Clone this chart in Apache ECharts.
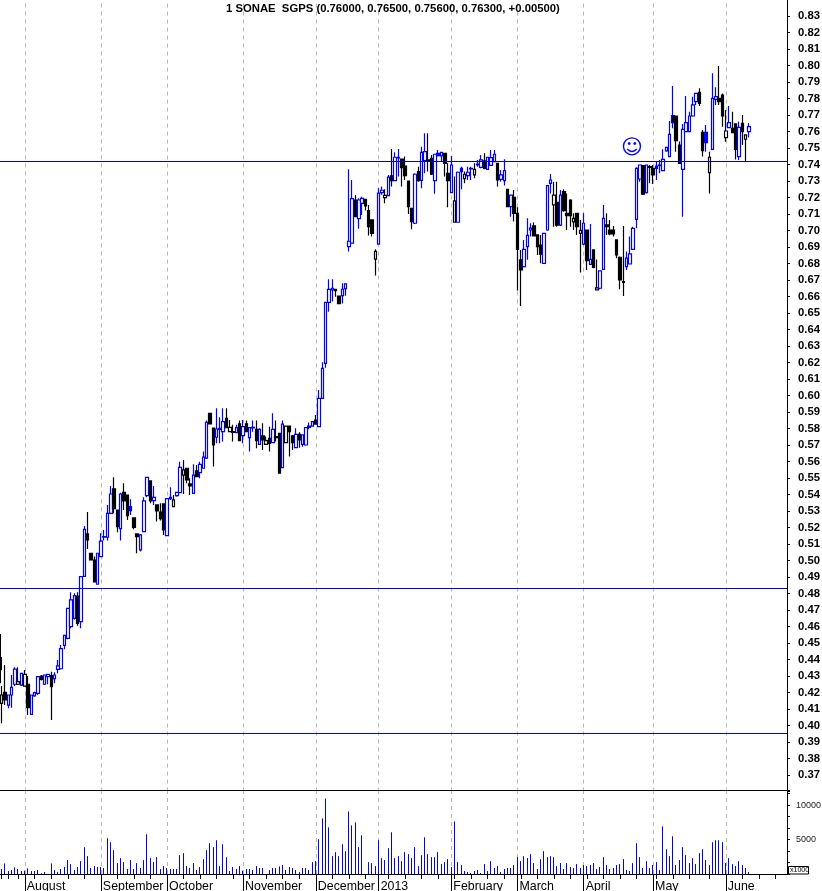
<!DOCTYPE html>
<html><head><meta charset="utf-8">
<style>html,body{margin:0;padding:0;background:#fff}#c{width:822px;height:891px}</style>
<script src="https://cdn.jsdelivr.net/npm/echarts@6/dist/echarts.min.js"></script>
</head><body><div id="c"></div>
<script>
const titleText = "1 SONAE  SGPS (0.76000, 0.76500, 0.75600, 0.76300, +0.00500)";
const monthNames = ["August","September","October","November","December","2013","February","March","April","May","June"];
const monthStarts = [8,31,51,74,96,115,137,157,177,198,220];
const weekTicks = [1,3,6,11,16,21,26,36,41,46,56,61,66,71,76,81,86,91,101,106,111,118,123,128,133,138,143,148,153,158,163,168,173,178,183,188,193,199,204,209,215,225,230,235];
const slotCount = 239;
const levelLines = [0.7419,0.4829,0.3956];
const kinds = ("KbKBBBbBbK"+"BBBKBBKBBB"+"BBBBKBBKKK"+"BBBBBKKBKK"+"FKKBBBKBKK"+"KBBbBBbKKB"+"KBBBKKBBBK"+"bKBKBKBBKB"+"KbKBKKBbKK"+"BKBBBBKBBB"+"BBKKBBBBKB"+"BKKKbBBbBK"+"BBKKKKBKBB"+"KKBFBKKBbB"+"FbBBbBBKBB"+"BKBBKBKKKB"+"BBKKKBBBbK"+"BKKKbKbBKB"+"KbBBKKKKKK"+"BBBBBKBKKF"+"BBBBMKKBBB"+"BBKKFbBBKK"+"bBKKBKbB").split("");
const highs = [.4555,.4239,.4367,.4185,.4306,.4353,.4353,.4316,.4336,.4300,
.4185,.4205,.4296,.4306,.4306,.4310,.4326,.4322,.4397,.4488,
.4546,.4710,.4807,.4801,.4807,.4902,.5209,.5294,.5044,.5024,
.5044,.5165,.5185,.5337,.5452,.5504,.5306,.5411,.5468,.5397,
.5371,.5258,.5161,.5161,.5383,.5504,.5482,.5452,.5337,.5347,
.5343,.5375,.5444,.5397,.5413,.5599,.5609,.5559,.5498,.5583,
.5579,.5599,.5660,.5848,.5892,.5803,.5922,.5868,.5922,.5922,
.5852,.5822,.5822,.5848,.5852,.5848,.5805,.5848,.5848,.5801,
.5832,.5751,.5811,.5892,.5848,.5771,.5848,.5815,.5815,.5761,
.5801,.5777,.5761,.5807,.5836,.5842,.5882,.6033,.6201,.6564,
.6704,.6704,.6644,.6603,.6680,.6680,.7371,.7306,.7215,.7195,
.7205,.7189,.7155,.7064,.6886,.7256,.7266,.7250,.7337,.7494,
.7474,.7494,.7432,.7448,.7300,.7135,.7347,.7387,.7508,.7589,
.7589,.7458,.7462,.7488,.7474,.7468,.7407,.7452,.7327,.7357,
.7387,.7357,.7387,.7387,.7407,.7428,.7458,.7468,.7444,.7488,
.7488,.7407,.7367,.7432,.7250,.7215,.7246,.7141,.6882,.6943,
.7074,.7044,.7048,.6973,.6973,.6983,.7272,.7343,.7296,.7296,
.7246,.7250,.7225,.7189,.7104,.7104,.7064,.7104,.7003,.7040,
.6882,.6825,.6755,.7155,.7104,.7064,.7027,.6943,.6842,.7027,
.6872,.6963,.7023,.7383,.7397,.7397,.7397,.7397,.7397,.7417,
.7427,.7492,.7504,.7664,.7876,.7694,.7539,.7646,.7815,.7720,
.7811,.7831,.7862,.7609,.7640,.7478,.7953,.7868,.7997,.7831,
.7730,.7755,.7720,.7646,.7660,.7700,.7579,.7650];
const bodyTops = [.44,.4185,.4201,.4185,.4231,.4342,.4266,.4316,.4310,.4250,
.4185,.4199,.4296,.4300,.4306,.4310,.4302,.4306,.4361,.4466,
.4546,.4710,.4761,.4787,.4785,.4902,.5189,.5161,.5044,.5003,
.5044,.5117,.5145,.5286,.5403,.5434,.5306,.5403,.5413,.5397,
.5327,.5258,.5161,.5155,.5361,.5504,.5482,.5383,.5337,.5294,
.5343,.5375,.5383,.5367,.5413,.5565,.5549,.5559,.5464,.5517,
.5543,.5583,.5626,.5838,.5892,.5803,.5797,.5801,.5842,.5862,
.5807,.5781,.5805,.5828,.5811,.5828,.5805,.5807,.5795,.5795,
.5755,.5727,.5741,.5795,.5751,.5771,.5826,.5815,.5815,.5755,
.5765,.5765,.5761,.5805,.5815,.5842,.5851,.5983,.6164,.6564,
.6643,.6650,.6644,.6603,.6644,.6676,.6935,.7193,.7185,.7185,
.7195,.7189,.7121,.7064,.6874,.7226,.7244,.7213,.7323,.7331,
.7444,.7444,.7432,.7391,.7300,.7135,.7341,.7357,.7474,.7478,
.7428,.7438,.7462,.7468,.7474,.7468,.7347,.7397,.7179,.7353,
.7377,.7341,.7353,.7377,.7371,.7403,.7428,.7422,.7444,.7442,
.7462,.7407,.7337,.7363,.7250,.7215,.7201,.7104,.6822,.6886,
.6971,.7014,.7028,.6973,.6912,.6983,.7272,.7306,.7215,.7171,
.7215,.7236,.7104,.7185,.7074,.7104,.7001,.7044,.7003,.6825,
.6882,.6652,.6755,.7074,.7034,.7003,.7003,.6943,.6838,.6690,
.6832,.6858,.7013,.7377,.7397,.7393,.7397,.7387,.7377,.7391,
.7397,.7431,.7504,.7583,.7696,.7694,.7518,.7613,.7654,.7694,
.7761,.7831,.7837,.7595,.7595,.7444,.7801,.7811,.7801,.7821,
.7603,.7654,.7619,.7646,.7625,.7650,.7579,.7629];
const bodyBottoms = [.435,.4134,.4155,.4124,.4185,.4250,.4250,.4245,.4239,.4108,
.4068,.4179,.4195,.4280,.4250,.4296,.4235,.4284,.4340,.4344,
.4486,.4528,.4599,.4649,.4619,.4629,.4904,.5125,.5003,.4870,
.4856,.5024,.5141,.5141,.5286,.5314,.5205,.5193,.5361,.5272,
.5302,.5201,.5145,.5064,.5175,.5393,.5361,.5363,.5300,.5254,
.5185,.5151,.5375,.5327,.5393,.5411,.5517,.5488,.5452,.5407,
.5508,.5533,.5559,.5620,.5828,.5700,.5747,.5795,.5781,.5805,
.5781,.5777,.5775,.5727,.5757,.5781,.5745,.5803,.5727,.5704,
.5731,.5704,.5710,.5714,.5745,.5529,.5563,.5714,.5781,.5714,
.5684,.5731,.5704,.5700,.5807,.5815,.5827,.5811,.5983,.6195,
.6564,.6640,.6636,.6557,.6605,.6648,.6902,.6923,.7084,.7072,
.7165,.7149,.7024,.6983,.6826,.6917,.7230,.7199,.7211,.7302,
.7302,.7440,.7381,.7333,.7145,.7054,.7044,.7302,.7304,.7424,
.7422,.7341,.7302,.7454,.7452,.7407,.7302,.7230,.7050,.7050,
.7357,.7314,.7333,.7373,.7337,.7397,.7383,.7377,.7371,.7395,
.7418,.7306,.7310,.7302,.7145,.7145,.7104,.6886,.6761,.6781,
.6902,.7003,.6967,.6902,.6856,.6801,.7003,.7286,.7155,.7033,
.7033,.7120,.7090,.7090,.7052,.7023,.6983,.6918,.6817,.6795,
.6777,.6640,.6650,.6765,.7023,.6979,.6979,.6852,.6700,.6686,
.6781,.6797,.6886,.7068,.7312,.7221,.7229,.7383,.7337,.7377,
.7393,.7363,.7482,.7448,.7654,.7545,.7407,.7371,.7599,.7599,
.7694,.7781,.7771,.7484,.7532,.7351,.7492,.7795,.7781,.7694,
.7563,.7623,.7593,.7492,.7448,.7599,.7553,.7599];
const lows = [.4256,.4013,.4124,.4104,.4108,.4239,.4245,.4239,.4235,.4064,
.4068,.4175,.4185,.4272,.4245,.4250,.4033,.4256,.4316,.4340,
.4462,.4522,.4589,.4643,.4605,.4589,.4902,.5070,.5003,.4870,
.4856,.5024,.5121,.5121,.5282,.5286,.5171,.5121,.5306,.5246,
.5276,.5189,.5044,.5054,.5175,.5383,.5347,.5337,.5236,.5242,
.5155,.5151,.5367,.5327,.5387,.5407,.5403,.5468,.5397,.5407,
.5504,.5498,.5559,.5615,.5828,.5569,.5710,.5710,.5721,.5801,
.5777,.5721,.5771,.5727,.5710,.5777,.5660,.5781,.5680,.5700,
.5670,.5700,.5660,.5710,.5721,.5529,.5559,.5714,.5630,.5670,
.5684,.5684,.5690,.5696,.5795,.5811,.5827,.5811,.5983,.6168,
.6508,.6569,.6599,.6557,.6557,.6605,.6872,.6923,.7080,.7011,
.7094,.7121,.6969,.6963,.6727,.6913,.7216,.7165,.7211,.7266,
.7300,.7327,.7266,.7306,.7100,.7007,.7040,.7296,.7256,.7347,
.7357,.7337,.7222,.7448,.7417,.7327,.7141,.7230,.7050,.7050,
.7250,.7286,.7306,.7306,.7316,.7387,.7377,.7371,.7367,.7393,
.7413,.7266,.7296,.7272,.7141,.7084,.7054,.6636,.6543,.6781,
.6822,.6963,.6967,.6852,.6801,.6801,.6999,.7225,.7023,.7023,
.7027,.7114,.7003,.7023,.7003,.6973,.6745,.6912,.6761,.6791,
.6771,.6640,.6644,.6761,.6973,.6971,.6963,.6832,.6644,.6603,
.6761,.6797,.6882,.7013,.7296,.7215,.7225,.7286,.7282,.7306,
.7347,.7363,.7478,.7448,.7619,.7478,.7407,.7084,.7599,.7599,
.7690,.7761,.7755,.7448,.7478,.7225,.7488,.7761,.7761,.7629,
.7538,.7619,.7589,.7431,.7427,.7518,.7417,.7563];
const volumes = [0,720,1536,432,576,960,720,432,480,816,
432,432,576,96,288,0,1536,576,288,720,
1008,2016,1440,576,1008,1872,3888,2592,864,1152,
1008,1008,864,5184,4608,3456,1584,2304,1728,720,
2016,720,1584,864,2016,5760,2304,1728,2448,720,
1152,864,720,720,720,2736,3024,1152,864,1584,
576,1008,2160,3456,4464,3888,4896,1152,4320,2448,
432,1008,720,1152,480,720,720,576,1152,864,
864,0,576,864,864,1104,1296,576,1008,864,
576,288,864,864,576,1728,1872,5040,8064,10944,
6768,2592,3168,2592,4320,3312,9072,7056,7488,3888,
5616,0,1728,1584,1152,4896,2304,2016,3744,6048,
2304,2592,1872,3168,2880,2304,3888,1152,2736,5328,
2880,2448,2448,3168,1440,1728,2160,1008,7632,1728,
1296,432,288,144,432,576,144,1440,432,1872,
864,1152,288,720,864,864,1296,2448,1872,2592,
2304,2880,1584,720,2160,3312,2448,2592,2448,1152,
1584,720,1584,1008,864,1440,864,1296,1152,1296,
1584,720,1008,2448,1296,720,864,1296,1440,2160,
576,432,1584,4464,2448,864,1872,864,1296,1728,
576,6912,3600,2592,5472,1296,2016,3888,2736,1584,
2304,1440,3024,3600,2016,1296,4608,4896,4896,4608,
1584,2304,1440,1152,1872,1296,864,288];

const BLUE='#0000ff', BLACK='#000000', WHITE='#ffffff';
const categories = Array.from({length:slotCount},(_,i)=>{const m=monthStarts.indexOf(i);return m>=0?monthNames[m]:String(i);});
const styleOf = {B:[WHITE,BLUE],b:[WHITE,BLACK],K:[BLACK,BLACK],F:[BLUE,BLUE],M:[BLACK,BLUE]};
const candleData = kinds.map((kd,i)=>{
  const hollow = kd==='B'||kd==='b';
  const [fill,edge]=styleOf[kd];
  return {value: hollow?[bodyBottoms[i],bodyTops[i],lows[i],highs[i]]:[bodyTops[i],bodyBottoms[i],lows[i],highs[i]],
    itemStyle:{color:fill,color0:fill,borderColor:edge,borderColor0:edge,borderWidth:i===0?5:1.2}};
});
const volumeData = volumes.map(v=>v>0?[0,0,0,v]:'-');
const dash = monthStarts.map(k=>({xAxis:k}));
const dashStyle={color:'#b8b8b8',type:[4,4],width:1};
const dashMark = {silent:true,symbol:'none',z:1,label:{show:false},animation:false,lineStyle:dashStyle,data:dash};
const FONT='"Liberation Sans",Arial,sans-serif';
const chart = echarts.init(document.getElementById('c'),null,{renderer:'canvas'});
chart.setOption({
  animation:false,
  backgroundColor:'#fff',
  title:{text:titleText,left:226,top:3,padding:0,textStyle:{fontFamily:FONT,fontSize:11.3,fontWeight:'bold',color:'#000'}},
  grid:[
    {left:-3.29,width:790.29,top:-0.5,height:792,outerBoundsMode:'none'},
    {left:-3.29,width:790.29,top:790,height:84,outerBoundsMode:'none'}
  ],
  xAxis:[
    {type:'category',gridIndex:0,data:categories,position:'bottom',axisLine:{show:false},axisTick:{show:false},axisLabel:{show:false},splitLine:{show:false}},
    {type:'category',gridIndex:1,data:categories,position:'bottom',
      axisLine:{show:true,onZero:false,lineStyle:{color:'#000',width:1}},
      axisTick:{show:true,alignWithLabel:true,length:5,lineStyle:{color:'#000'},interval:(i)=>weekTicks.includes(i)},
      axisLabel:{show:false},splitLine:{show:false}},
    {type:'category',gridIndex:1,data:categories,position:'bottom',
      axisLine:{show:false,onZero:false},
      axisTick:{show:true,alignWithLabel:true,length:17,lineStyle:{color:'#000'},interval:(i)=>monthStarts.includes(i)},
      axisLabel:{show:true,interval:(i)=>monthStarts.includes(i),align:'left',margin:7,padding:[0,0,0,2],fontFamily:FONT,fontSize:12.4,color:'#000',hideOverlap:false,
        formatter:(v,i)=>monthStarts.includes(i)?v:''},
      splitLine:{show:false}}
  ],
  yAxis:[
    {type:'value',gridIndex:0,position:'right',min:0.36,max:0.84,interval:0.01,
      axisLine:{show:true,lineStyle:{color:'#000'}},axisTick:{show:true,length:3,lineStyle:{color:'#000'}},
      axisLabel:{margin:11,padding:[4,0,0,0],fontFamily:FONT,fontSize:11.3,fontWeight:'bold',color:'#000',
        formatter:v=>(v<0.365||v>0.835)?'':v.toFixed(2)},
      splitLine:{show:false}},
    {type:'value',gridIndex:1,position:'right',min:0,max:12187,interval:5000,
      axisLine:{show:true,lineStyle:{color:'#000'}},axisTick:{show:true,length:3,lineStyle:{color:'#000'}},
      minorTick:{show:true,splitNumber:3,length:3,lineStyle:{color:'#000'}},
      axisLabel:{margin:9,fontFamily:FONT,fontSize:9,color:'#222',showMinLabel:false,
        formatter:v=>(v===5000||v===10000)?String(v):''},
      splitLine:{show:false},minorSplitLine:{show:false}}
  ],
  graphic:[
    {type:'rect',shape:{x:788.5,y:866.5,width:20,height:7.5},style:{fill:'#fff',stroke:'#000',lineWidth:1},z:10},
    {type:'text',x:790,y:867,style:{text:'x1000',fontFamily:FONT,fontSize:7,fill:'#000'},z:11},
    {type:'text',x:632,y:149,style:{text:'\u263A',fontFamily:'"DejaVu Sans"',fontSize:21,fill:BLUE,align:'center',verticalAlign:'middle'},z:11}
  ],
  series:[
    {type:'line',xAxisIndex:0,yAxisIndex:0,data:[],z:0,markLine:dashMark},
    {type:'candlestick',xAxisIndex:0,yAxisIndex:0,data:candleData,barWidth:3,clip:false,z:3,
      markLine:{silent:true,symbol:'none',precision:4,label:{show:false},animation:false,
        data:[
          {yAxis:0.3608,lineStyle:{color:'#000',width:1,type:'solid'}},
          ...levelLines.map((v,i)=>({yAxis:v,lineStyle:{color:i===0?'#0000c8':BLUE,width:1,type:'solid'}}))
        ]}},
    {type:'line',xAxisIndex:1,yAxisIndex:1,data:[],z:0,markLine:dashMark},
    {type:'candlestick',xAxisIndex:1,yAxisIndex:1,data:volumeData,barWidth:1,z:3,
      itemStyle:{color:BLUE,color0:BLUE,borderColor:BLUE,borderColor0:BLUE,borderColorDoji:BLUE,borderWidth:1}}
  ]
});
</script></body></html>
